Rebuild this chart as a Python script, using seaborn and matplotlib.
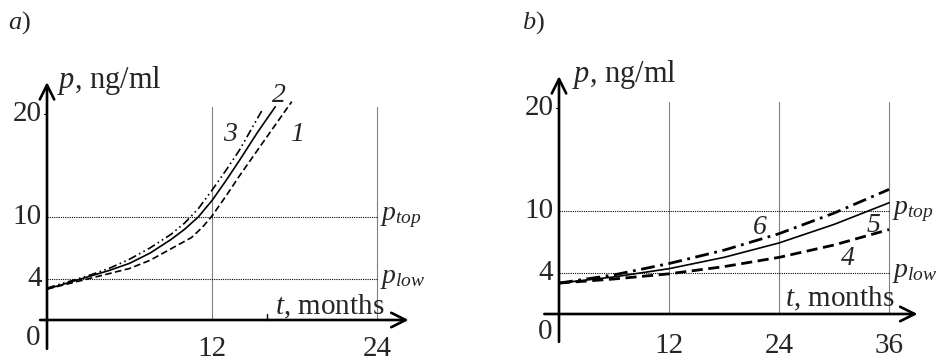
import numpy as np
import pandas as pd
import seaborn as sns
import matplotlib.pyplot as plt

# values
# panel a) - months 0..18, PSA p in ng/ml
t1 = [0, 1.5, 3, 4.5, 6, 7.5, 9, 10.5, 11.3, 12, 13, 14, 16, 17.8]
p1 = [3.0, 3.5, 4.0, 4.5, 5.0, 5.8, 6.9, 8.0, 9.0, 10.1, 12.0, 14.0, 17.8, 21.2]   # curve 1, dashed
t2 = [0, 1.5, 3, 4.5, 6, 7.5, 9, 10, 11, 12, 13, 14, 15.3, 16.6]
p2 = [3.0, 3.6, 4.2, 4.8, 5.5, 6.5, 7.8, 8.8, 10.0, 11.6, 13.5, 15.5, 18.2, 20.7]  # curve 2, solid
t3 = [0, 1.5, 3, 4.5, 6, 7.5, 9, 10, 11, 12, 13, 14, 15.7]
p3 = [3.1, 3.7, 4.3, 5.0, 5.9, 7.0, 8.3, 9.4, 10.8, 12.6, 14.5, 16.5, 20.5]        # curve 3, dash-dot

# panel b) - months 0..36
tb = [0, 6, 12, 18, 24, 30, 36]
p4 = [3.0, 3.4, 3.9, 4.6, 5.5, 6.7, 8.2]     # curve 4, dashed
p5 = [3.0, 3.6, 4.4, 5.5, 6.9, 8.7, 10.8]    # curve 5, solid
p6 = [3.0, 3.8, 4.9, 6.2, 7.8, 9.8, 12.1]    # curve 6, dash-dot

p_low, p_top = 4, 10
yticks = [4, 10, 20]
xticks_a = [12, 24]
xticks_b = [12, 24, 36]

sns.set_style('white')
plt.rcParams['font.family'] = ['Liberation Serif', 'DejaVu Serif']
plt.rcParams['mathtext.fontset'] = 'custom'
plt.rcParams['mathtext.rm'] = 'Liberation Serif'
plt.rcParams['mathtext.it'] = 'Liberation Serif:italic'

W, H = 938, 356
fig = plt.figure(figsize=(W / 100, H / 100), dpi=100)


def make_ax(x0, px_x, xlim, y0, px_y, ylim):
    # place axes so that data units map to the wanted pixel scale
    left = x0 + xlim[0] * px_x
    right = x0 + xlim[1] * px_x
    bottom = y0 - ylim[0] * px_y
    top = y0 - ylim[1] * px_y
    ax = fig.add_axes([left / W, (H - bottom) / H, (right - left) / W, (bottom - top) / H])
    ax.set_xlim(xlim)
    ax.set_ylim(ylim)
    ax.axis('off')
    return ax


def frame(ax, xt, xend, xstart, ytop, ybot, grid_top, hline_end, k, ylab_y):
    arr = dict(arrowstyle='->', lw=1.9, color='black', mutation_scale=26, shrinkA=0, shrinkB=0)
    ax.annotate('', xy=(xend, 0), xytext=(xstart, 0), arrowprops=arr)
    ax.annotate('', xy=(0, ytop), xytext=(0, ybot), arrowprops=arr)
    for x in xt:
        ax.plot([x, x], [0, grid_top], color='gray', lw=0.8)
    for y in (p_low, p_top):
        ax.plot([0, hline_end], [y, y], color='black', lw=0.8, ls=(0, (1, 1)))
    ax.plot([-0.25 * k, 0], [yticks[-1]] * 2, color='black', lw=0.8)
    for y in yticks:
        ax.text(-0.4 * k, y, str(y), ha='right', va='center', fontsize=21)
    for x in xt:
        ax.text(x, ylab_y, str(x), ha='center', va='top', fontsize=21)
    ax.text(-0.45 * k, -0.5, '0', ha='right', va='top', fontsize=21)
    ax.text(hline_end + 0.2 * k, p_top, r'$p_{top}$', ha='left', va='center', fontsize=20)
    ax.text(hline_end + 0.2 * k, p_low, r'$p_{low}$', ha='left', va='center', fontsize=20)


# ---- panel a ----
axa = make_ax(47, 13.75, (-1.5, 27), 320, 10.3, (-3.5, 24))
frame(axa, xticks_a, 26.3, -0.5, 23.1, -2.8, 20.7, 24, 1.0, -1.55)
axa.plot([16, 16], [0, 0.6], color='black', lw=1)
sns.lineplot(x=t1, y=p1, ax=axa, color='black', lw=1.2, ls=(0, (4, 2)))
sns.lineplot(x=t2, y=p2, ax=axa, color='black', lw=1.2)
sns.lineplot(x=t3, y=p3, ax=axa, color='black', lw=1.2, ls=(0, (5, 2, 1, 2, 1, 2)))
axa.text(16.9, 21.8, '2', fontsize=20, style='italic', ha='center', va='center')
axa.text(13.3, 18.0, '3', fontsize=20, style='italic', ha='center', va='center')
axa.text(18.2, 18.0, '1', fontsize=20, style='italic', ha='center', va='center')
axa.text(16.6, 1.3, r'$t$, months', fontsize=21, ha='left', va='center')
axa.text(0.7, 23.3, r'$p$, ng/ml', fontsize=22, ha='left', va='center')

# ---- panel b ----
axb = make_ax(559, 9.17, (-3, 41), 314, 10.3, (-4, 24))
frame(axb, xticks_b, 39.1, -1.6, 23.1, -2.7, 20.6, 36, 1.5, -1.8)
sns.lineplot(x=tb, y=p4, ax=axb, color='black', lw=2, ls=(0, (4, 2)))
sns.lineplot(x=tb, y=p5, ax=axb, color='black', lw=1.2)
sns.lineplot(x=tb, y=p6, ax=axb, color='black', lw=2, ls=(0, (5, 2, 1, 2)))
axb.text(21.9, 8.4, '6', fontsize=20, style='italic', ha='center', va='center')
axb.text(34.3, 8.6, '5', fontsize=20, style='italic', ha='center', va='center')
axb.text(31.5, 5.4, '4', fontsize=20, style='italic', ha='center', va='center')
axb.text(24.6, 1.5, r'$t$, months', fontsize=21, ha='left', va='center')
axb.text(1.4, 23.3, r'$p$, ng/ml', fontsize=22, ha='left', va='center')

fig.text(8 / W, 1 - 23 / H, r'$a$)', fontsize=19, ha='left', va='center')
fig.text(522 / W, 1 - 23 / H, r'$b$)', fontsize=19, ha='left', va='center')

fig.savefig('out.png', dpi=100)
